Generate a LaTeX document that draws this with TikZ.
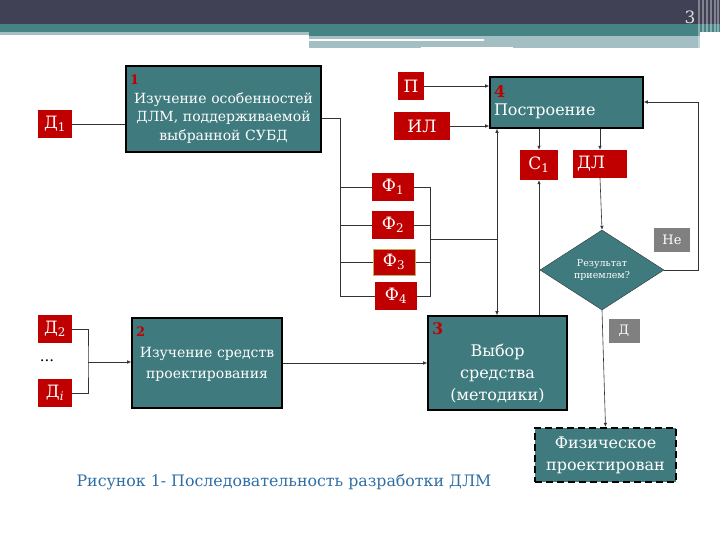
\documentclass[tikz,border=0pt]{standalone}
\usepackage{fontspec}
\setmainfont{DejaVu Serif}
\usetikzlibrary{positioning}
\usetikzlibrary{calc}
\usetikzlibrary{arrows.meta}
\usetikzlibrary{shapes.geometric}
\definecolor{MyDark}{RGB}{64,65,84}
\definecolor{MyBand}{RGB}{70,131,133}
\definecolor{MyPale}{RGB}{164,191,196}
\definecolor{MyTeal}{RGB}{63,122,126}
\definecolor{MyRed}{RGB}{192,0,0}
\definecolor{MyGray}{RGB}{128,128,128}
\definecolor{MyBlue}{RGB}{46,110,165}
\definecolor{MyOlive}{RGB}{186,178,92}
\newcommand{\numtxt}[1]{{\fontsize{13}{14}\selectfont\bfseries\textcolor{MyRed}{#1}}}

\begin{document}
\begin{tikzpicture}[
  x=1pt, y=-1pt,
  font=\fontsize{14}{18.5}\selectfont,
  >={Latex[length=4pt,width=3.5pt]},
  stage/.style={draw=black, line width=1.6pt, fill=MyTeal, text=white, align=center, inner sep=3pt},
  tag/.style={fill=MyRed, text=white, minimum height=28pt, inner sep=2pt, font=\fontsize{17}{19}\selectfont},
  note/.style={fill=MyGray, text=white, inner sep=2pt, font=\fontsize{13}{14}\selectfont},
  ln/.style={draw=black!80, line width=0.6pt},
  ar/.style={->, draw=black!80, line width=0.6pt}
]
\useasboundingbox (0,0) rectangle (720,540);
\fill[MyDark] (0,0) rectangle (720,24);
\fill[MyBand] (0,24) rectangle (720,32);
\fill[MyPale] (0,32) rectangle (309,35);
\fill[MyBand] (309,24) rectangle (700,36);
\fill[MyPale] (309,36) rectangle (700,48);
\fill[white] (309,39) rectangle (484,41);
\fill[white] (421,47) rectangle (513,49);
\foreach \sx in {698,702,706,710,714,717}
  \fill[white, opacity=0.35] (\sx,0) rectangle ++(2,50);
\node[text=white!88!black, font=\fontsize{17}{20}\selectfont] (pageno) at (690,17) {3};

\node[stage, minimum width=195pt, minimum height=86pt, text width=187pt] (study) at (223.5,109)
  {\makebox[\linewidth][l]{\numtxt{1}}\\Изучение особенностей\\ДЛМ, поддерживаемой\\выбранной СУБД};
\node[stage, minimum width=150pt, minimum height=90pt, text width=142pt,
      font=\fontsize{14}{21}\selectfont] (tools) at (207,363)
  {\makebox[\linewidth][l]{\numtxt{2}}\\Изучение средств\\проектирования\\\mbox{}};
\node[stage, minimum width=139pt, minimum height=94pt, text width=131pt,
      font=\fontsize{16}{22}\selectfont] (choice) at (497.5,363)
  {\makebox[\linewidth][l]{\numtxt{\fontsize{16}{17}\selectfont 3}}\\Выбор\\средства\\(методики)};
\node[stage, minimum width=153pt, minimum height=51pt, text width=145pt, align=left,
      font=\fontsize{16}{18}\selectfont] (build) at (566.5,102.5)
  {\numtxt{\fontsize{16}{17}\selectfont 4}\\Построение};
\node[stage, dash pattern=on 7pt off 4pt, line width=2.4pt, minimum width=141pt, minimum height=54pt,
      inner sep=1pt, font=\fontsize{16}{22}\selectfont] (phys) at (605.5,455) {Физическое\\проектирован};
\node[diamond, draw=black!80, fill=MyTeal, text=white, aspect=1.55, minimum width=124pt,
      minimum height=80pt, inner sep=0pt, align=center, font=\fontsize{9.5}{12}\selectfont]
  (ok) at (602,270) {Результат\\приемлем?};

\node[tag, minimum width=34pt] (d1) at (55,124) {Д\textsubscript{1}};
\node[tag, minimum width=34pt] (d2) at (55,329) {Д\textsubscript{2}};
\node[tag, minimum width=34pt] (di) at (55,393) {Д\textsubscript{\itshape i}};
\node[font=\fontsize{15}{17}\selectfont] (dots) at (47,361) {...};
\node[tag, minimum width=26pt] (p) at (411,86) {П};
\node[tag, minimum width=56pt] (il) at (422,126) {ИЛ};
\node[tag, minimum width=38pt, minimum height=30pt] (c1) at (539,165) {С\textsubscript{1}};
\node[tag, minimum width=54pt, text width=46pt, align=left] (dl) at (600,164) {ДЛ};
\node[tag, minimum width=42pt] (f1) at (393,187) {Ф\textsubscript{1}};
\node[tag, minimum width=42pt] (f2) at (393,225) {Ф\textsubscript{2}};
\node[tag, minimum width=42pt, draw=MyOlive, line width=1pt, minimum height=26pt] (f3) at (394,262) {Ф\textsubscript{3}};
\node[tag, minimum width=42pt] (f4) at (396,296) {Ф\textsubscript{4}};
\node[note, minimum width=36pt, minimum height=23pt] (no) at (672,240) {Не};
\node[note, minimum width=31pt, minimum height=24pt] (yes) at (624,331) {Д};

\node[text=MyBlue, font=\fontsize{15.8}{18}\selectfont] (caption) at (284,482)
  {Рисунок 1- Последовательность разработки ДЛМ};

\draw[ln] (d1.east) -- (d1.east -| study.west);
\coordinate (lbus) at (340,118);
\draw[ln] (study.east |- lbus) -- (lbus) -- (lbus |- f4.west) -- (f4.west);
\foreach \f in {f1,f2,f3} \draw[ln] (lbus |- \f.west) -- (\f.west);
\coordinate (rbus) at (430,239);
\draw[ln] (f1.east) -- (f1.east -| rbus) -- (f4.east -| rbus) -- (f4.east);
\foreach \f in {f2,f3} \draw[ln] (\f.east) -- (\f.east -| rbus);
\coordinate (vlink) at (497,239);
\draw[ln] (rbus) -- (vlink);
\draw[ar, <->] (build.south -| vlink) -- (choice.north -| vlink);
\draw[ar] (c1.south |- choice.north) -- (c1.south);
\draw[ar] (build.south -| c1.north) -- (c1.north);
\draw[ar] (build.south -| dl.north) -- (dl.north);
\draw[ar] (dl.south) -- (ok.north);
\coordinate (back) at (698,102);
\draw[ar] (ok.east) -| (back) -- (build.east |- back);
\draw[ar] (ok.south) -- (phys.north);
\draw[ar] (p.east) -- (p.east -| build.west);
\draw[ar] (il.east) -- (il.east -| build.west);
\coordinate (join) at (88,362);
\draw[ln] (d2.east) -| (join) |- (di.east);
\draw[ar] (join) -- (tools.west |- join);
\draw[ar] (tools.east) -- (choice.west);
\end{tikzpicture}
\end{document}
